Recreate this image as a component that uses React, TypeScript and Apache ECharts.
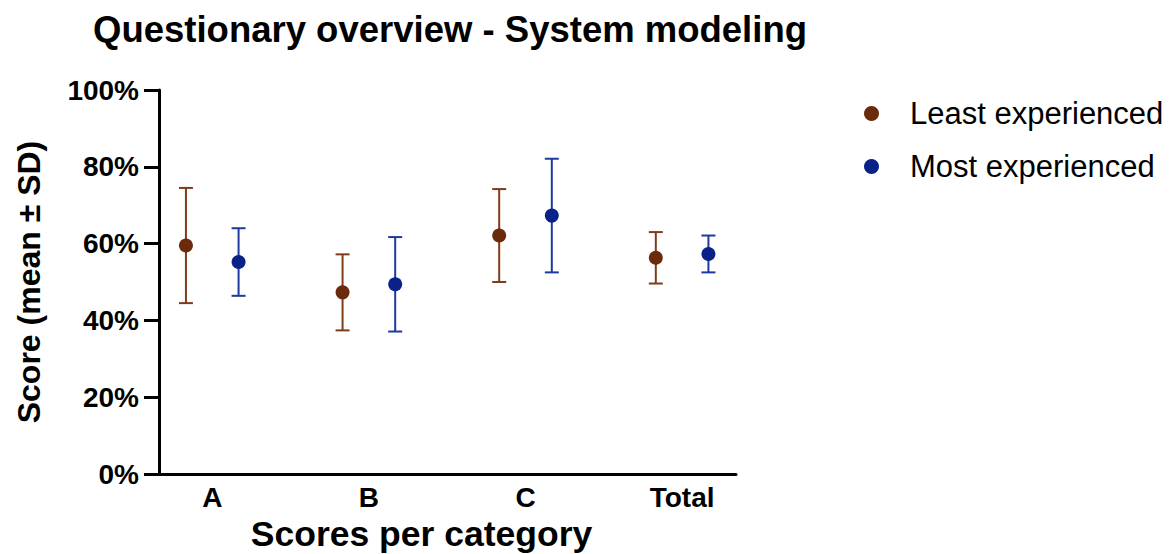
import React, { useEffect, useRef } from "react";
import * as echarts from "echarts";

const categories = ["A", "B", "C", "Total"];
const seriesNames = ["Least experienced", "Most experienced"];
const leastMean = [59.5, 47.3, 62.1, 56.3];
const leastSD = [15.0, 9.9, 12.1, 6.7];
const mostMean = [55.2, 49.4, 67.3, 57.3];
const mostSD = [8.8, 12.3, 14.8, 4.8];
const yTicks = [0, 20, 40, 60, 80, 100];

const FONT = "'Liberation Sans', Arial, Helvetica, sans-serif";
const BROWN = "#6B2A0C";
const BROWN_LINE = "#7E3C19";
const BLUE = "#0A2287";
const BLUE_LINE = "#1E3A9C";
const OFFSET = 0.168;

export default function App() {
  const ref = useRef<HTMLDivElement>(null);
  useEffect(() => {
    if (!ref.current) return;
    const chart = echarts.init(ref.current, null, { renderer: "svg" });

    const build = (means: number[], sds: number[], off: number) => ({
      points: means.map((m, i) => [i + off, m]),
      bars: means.map((m, i) => [i + off, m - sds[i], m + sds[i]]),
    });
    const least = build(leastMean, leastSD, -OFFSET);
    const most = build(mostMean, mostSD, OFFSET);

    const errRender = (color: string) => (params: any, api: any) => {
      const x = api.value(0);
      const lo = api.coord([x, api.value(1)]);
      const hi = api.coord([x, api.value(2)]);
      const half = 7;
      const style = { stroke: color, lineWidth: 2 };
      return {
        type: "group",
        children: [
          { type: "line", shape: { x1: lo[0], y1: lo[1], x2: hi[0], y2: hi[1] }, style },
          { type: "line", shape: { x1: hi[0] - half, y1: hi[1], x2: hi[0] + half, y2: hi[1] }, style },
          { type: "line", shape: { x1: lo[0] - half, y1: lo[1], x2: lo[0] + half, y2: lo[1] }, style },
        ],
      };
    };

    chart.setOption({
      animation: false,
      textStyle: { fontFamily: FONT },
      title: {
        text: "Questionary overview - System modeling",
        left: 88,
        top: 6,
        textStyle: { fontSize: 36.5, fontWeight: "bold", color: "#000", fontFamily: FONT },
      },
      legend: {
        data: seriesNames,
        orient: "vertical",
        left: 859,
        top: 93,
        itemWidth: 15,
        itemHeight: 15,
        itemGap: 22,
        icon: "circle",
        itemStyle: { opacity: 1 },
        textStyle: { fontSize: 31, color: "#000", fontFamily: FONT, padding: [0, 0, 0, 26], lineHeight: 31 },
      },
      grid: { left: 159, right: 438, top: 90, bottom: 80, outerBoundsMode: "none", containLabel: false },
      xAxis: {
        type: "value",
        min: -0.34,
        max: 3.344,
        name: "Scores per category",
        nameLocation: "middle",
        nameGap: 40,
        nameTextStyle: {
          fontSize: 35.5,
          fontWeight: "bold",
          color: "#000",
          fontFamily: FONT,
          padding: [0, 52, 0, 0],
          lineHeight: 36,
        },
        axisLine: { show: true, onZero: false, lineStyle: { color: "#000", width: 3 } },
        axisTick: { show: false },
        splitLine: { show: false },
        axisLabel: {
          customValues: categories.map((_, i) => i),
          formatter: (v: number) => categories[Math.round(v)] ?? "",
          fontSize: 28,
          fontWeight: "bold",
          color: "#000",
          margin: 9,
          fontFamily: FONT,
        },
      },
      yAxis: {
        type: "value",
        min: 0,
        max: 100,
        interval: 20,
        name: "Score (mean ± SD)",
        nameLocation: "middle",
        nameGap: 114,
        nameTextStyle: { fontSize: 32, fontWeight: "bold", color: "#000", fontFamily: FONT },
        axisLine: { show: true, onZero: false, lineStyle: { color: "#000", width: 3 } },
        axisTick: { show: true, length: 15, lineStyle: { color: "#000", width: 3 } },
        splitLine: { show: false },
        axisLabel: {
          formatter: (v: number) => (yTicks.includes(v) ? `${v}%` : ""),
          fontSize: 28,
          fontWeight: "bold",
          color: "#000",
          margin: 20,
          fontFamily: FONT,
        },
      },
      series: [
        {
          type: "custom",
          name: "Least experienced SD",
          renderItem: errRender(BROWN_LINE),
          data: least.bars,
          encode: { x: 0, y: [1, 2] },
          z: 2,
        },
        {
          type: "custom",
          name: "Most experienced SD",
          renderItem: errRender(BLUE_LINE),
          data: most.bars,
          encode: { x: 0, y: [1, 2] },
          z: 2,
        },
        {
          type: "scatter",
          name: seriesNames[0],
          data: least.points,
          symbol: "circle",
          symbolSize: 14,
          itemStyle: { color: BROWN, opacity: 1 },
          z: 3,
        },
        {
          type: "scatter",
          name: seriesNames[1],
          data: most.points,
          symbol: "circle",
          symbolSize: 14,
          itemStyle: { color: BLUE, opacity: 1 },
          z: 3,
        },
      ],
    });
    return () => chart.dispose();
  }, []);
  return (
    <div
      ref={ref}
      style={{ position: "fixed", left: 0, top: 0, width: 1174, height: 554, background: "#fff" }}
    />
  );
}
